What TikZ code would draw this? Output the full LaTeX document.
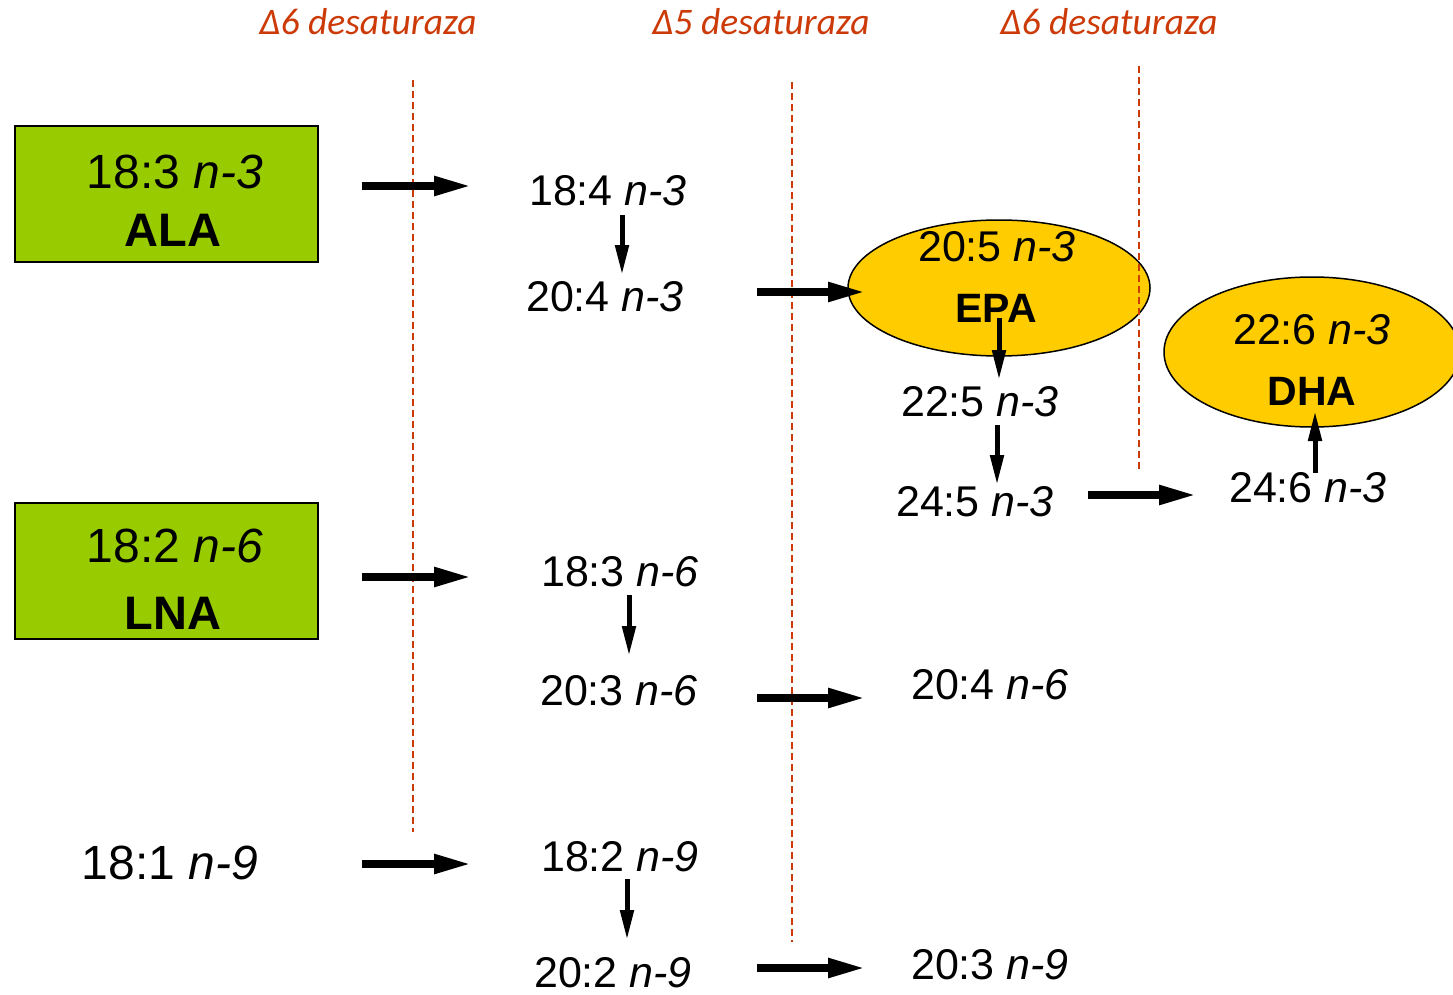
\documentclass[tikz,border=0pt]{standalone}
\usepackage{fontspec}
\setmainfont{Liberation Sans}
\newfontfamily\hdrfont{Carlito}
\usetikzlibrary{arrows.meta,shapes.geometric}
\definecolor{hdrred}{RGB}{204,58,8}
\definecolor{boxgreen}{RGB}{153,204,0}
\definecolor{ellyellow}{RGB}{255,204,0}
\tikzset{
  hdr/.style={anchor=base,text=hdrred,font=\hdrfont\itshape\fontsize{37.5}{44}\selectfont},
  lbl/.style={anchor=base,inner sep=0pt,font=\fontsize{43}{50}\selectfont},
  lblbig/.style={anchor=base,inner sep=0pt,font=\fontsize{48}{56}\selectfont},
  boldbig/.style={anchor=base,inner sep=0pt,font=\bfseries\fontsize{47}{56}\selectfont},
  boldmid/.style={anchor=base,inner sep=0pt,font=\bfseries\fontsize{41}{50}\selectfont},
  greenbox/.style={draw=black,line width=2pt,fill=boxgreen,minimum width=303pt,minimum height=136pt,inner sep=0pt},
  yellowell/.style={ellipse,draw=black,line width=1.5pt,fill=ellyellow,inner sep=0pt},
  divider/.style={hdrred,line width=1.5pt,dash pattern=on 7pt off 4pt},
  harr/.style={line width=8pt,-{Triangle[length=38pt,width=18pt]}},
  varr/.style={line width=5pt,-{Triangle[length=30pt,width=13pt]}}
}
\begin{document}
\begin{tikzpicture}[x=1pt,y=-1pt]
\useasboundingbox (0,0) rectangle (1453,995);
\clip (0,0) rectangle (1453,995);
\fill[white] (0,0) rectangle (1453,995);

% headers
\node[hdr] (h1) at (368,35) {Δ6 desaturaza};
\node[hdr] (h2) at (761,35) {Δ5 desaturaza};
\node[hdr] (h3) at (1109,35) {Δ6 desaturaza};

% dividers
\coordinate (d1t) at (413,80);  \coordinate (d1b) at (413,832);
\coordinate (d2t) at (792,82);  \coordinate (d2b) at (792,942);
\coordinate (d3t) at (1139,66); \coordinate (d3b) at (1139,472);

% boxes and ellipses
\node[greenbox] (box1) at (166.5,194) {};
\node[greenbox] (box2) at (166.5,571) {};
\node[yellowell,minimum width=302pt,minimum height=136pt] (epa) at (999,288) {};
\node[yellowell,minimum width=296pt,minimum height=150pt] (dha) at (1312,352) {};

\draw[divider] (d1t) -- (d1b);
\draw[divider] (d2t) -- (d2b);
\draw[divider] (d3t) -- (d3b);

% texts
\node[lblbig] (ala1) at (175,189) {18:3 \textit{n-3}};
\node[boldbig] (ala2) at (173,246) {ALA};
\node[lblbig] (lna1) at (175,562) {18:2 \textit{n-6}};
\node[boldbig] (lna2) at (173,629) {LNA};
\node[lblbig] (ole) at (170,879) {18:1 \textit{n-9}};

\node[lbl] (a184) at (608,205) {18:4 \textit{n-3}};
\node[lbl] (a204) at (605,311) {20:4 \textit{n-3}};
\node[lbl] (epa1) at (997,261) {20:5 \textit{n-3}};
\node[boldmid] (epa2) at (996,322) {EPA};
\node[lbl] (a225) at (980,416) {22:5 \textit{n-3}};
\node[lbl] (a245) at (975,516) {24:5 \textit{n-3}};
\node[lbl] (dha1) at (1312,344) {22:6 \textit{n-3}};
\node[boldmid] (dha2) at (1312,405) {DHA};
\node[lbl] (a246) at (1308,502) {24:6 \textit{n-3}};

\node[lbl] (b183) at (620,586) {18:3 \textit{n-6}};
\node[lbl] (b203) at (619,705) {20:3 \textit{n-6}};
\node[lbl] (b204) at (990,699) {20:4 \textit{n-6}};

\node[lbl] (c182) at (620,871) {18:2 \textit{n-9}};
\node[lbl] (c202) at (613,987) {20:2 \textit{n-9}};
\node[lbl] (c203) at (990,979) {20:3 \textit{n-9}};

% arrow end points
\coordinate (h1s) at (362,186);  \coordinate (h1e) at (472,186);
\coordinate (h2s) at (757,292);  \coordinate (h2e) at (866,292);
\coordinate (h3s) at (362,577);  \coordinate (h3e) at (472,577);
\coordinate (h4s) at (757,698);  \coordinate (h4e) at (866,698);
\coordinate (h5s) at (362,864);  \coordinate (h5e) at (472,864);
\coordinate (h6s) at (757,968);  \coordinate (h6e) at (866,968);
\coordinate (h7s) at (1088,495); \coordinate (h7e) at (1197,495);
\coordinate (v1s) at (622,215);  \coordinate (v1e) at (622,275);
\coordinate (v2s) at (999,318);  \coordinate (v2e) at (999,380);
\coordinate (v3s) at (997,425);  \coordinate (v3e) at (997,485);
\coordinate (v4s) at (629,595);  \coordinate (v4e) at (629,656);
\coordinate (v5s) at (627,879);  \coordinate (v5e) at (627,940);
\coordinate (v6s) at (1315,473); \coordinate (v6e) at (1315,411);

\draw[harr] (h1s) -- (h1e);
\draw[harr] (h2s) -- (h2e);
\draw[harr] (h3s) -- (h3e);
\draw[harr] (h4s) -- (h4e);
\draw[harr] (h5s) -- (h5e);
\draw[harr] (h6s) -- (h6e);
\draw[harr] (h7s) -- (h7e);
\draw[varr] (v1s) -- (v1e);
\draw[varr] (v2s) -- (v2e);
\draw[varr] (v3s) -- (v3e);
\draw[varr] (v4s) -- (v4e);
\draw[varr] (v5s) -- (v5e);
\draw[varr] (v6s) -- (v6e);
\end{tikzpicture}
\end{document}
